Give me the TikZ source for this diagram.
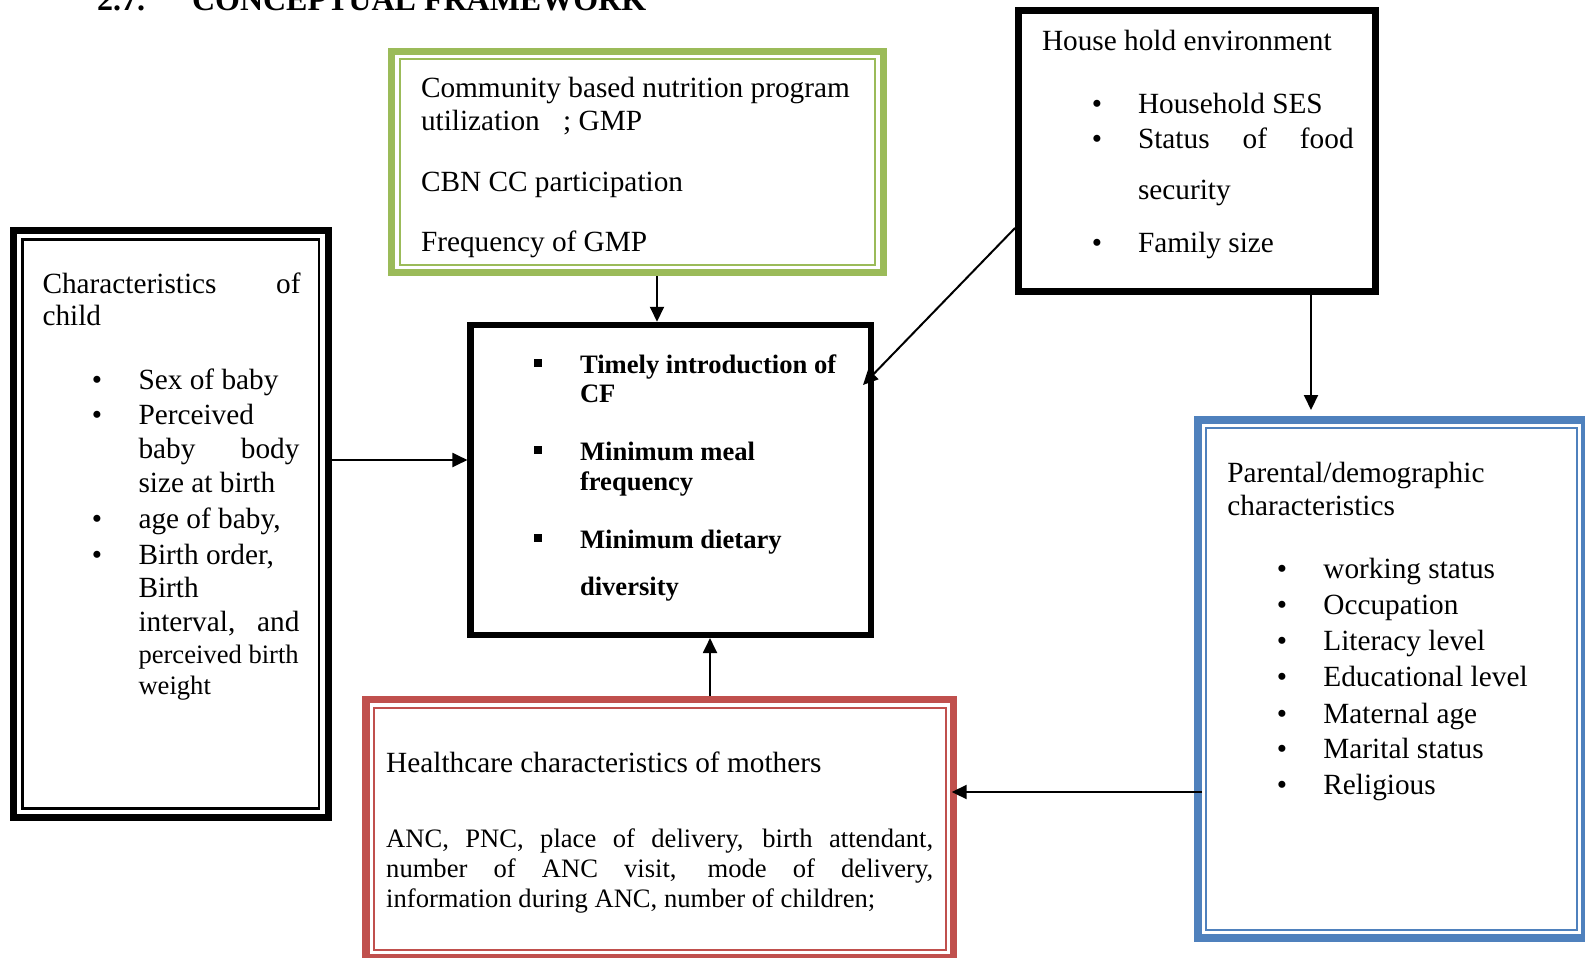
\documentclass[tikz,border=0pt]{standalone}
\usepackage{fontspec}
\setmainfont{Liberation Serif}
\usetikzlibrary{arrows.meta}
\definecolor{ogreen}{HTML}{9BBB59}
\definecolor{oblue}{HTML}{4F81BD}
\definecolor{ored}{HTML}{C0504D}
\begin{document}
\begin{tikzpicture}[x=1pt,y=-1pt,
  box/.style={draw, rectangle, inner sep=0, outer sep=0},
  t/.style={anchor=base west, inner sep=0, outer sep=0, font=\fontsize{29.3}{34}\selectfont},
  ts/.style={anchor=base west, inner sep=0, outer sep=0, font=\fontsize{26.6}{30}\selectfont},
  tb/.style={anchor=base west, inner sep=0, outer sep=0, font=\fontsize{26.6}{30}\selectfont\bfseries},
  ttl/.style={anchor=base west, inner sep=0, outer sep=0, font=\fontsize{32}{36}\selectfont\bfseries},
  bul/.style={anchor=base, inner sep=0, outer sep=0, font=\fontsize{29.3}{34}\selectfont},
  sqb/.style={fill, rectangle, inner sep=0, outer sep=0, minimum size=7.5pt},
  arr/.style={-{Triangle[length=15pt,width=14pt]}, line width=2pt}]
\useasboundingbox (0,0) rectangle (1585,958);
\fill[white] (0,0) rectangle (1585,958);

% title
\node[ttl] (tnum) at (97,11) {2.7.};
\node[ttl] (ttext) at (192,11) {CONCEPTUAL FRAMEWORK};

% boxes
\node[box, line width=7pt, minimum width=314.8pt, minimum height=587pt] (child) at (170.7,524) {};
\node[box, line width=2.5pt, minimum width=296.8pt, minimum height=569pt] (childin) at (child.center) {};

\node[box, draw=ogreen, line width=7pt, minimum width=491.5pt, minimum height=221pt] (cbn) at (637.25,162) {};
\node[box, draw=ogreen, line width=2pt, minimum width=475.5pt, minimum height=205pt] (cbnin) at (cbn.center) {};

\node[box, line width=6.5pt, minimum width=357.4pt, minimum height=281pt] (house) at (1197,151.2) {};

\node[box, line width=6.5pt, minimum width=400.3pt, minimum height=309.8pt] (cf) at (670.85,479.9) {};

\node[box, draw=oblue, line width=8pt, minimum width=387pt, minimum height=517.7pt] (par) at (1391.5,678.85) {};
\node[box, draw=oblue, line width=2pt, minimum width=371pt, minimum height=501.7pt] (parin) at (par.center) {};

\node[box, draw=ored, line width=7.5pt, minimum width=587.5pt, minimum height=258.3pt] (hc) at (659.75,828.85) {};
\node[box, draw=ored, line width=2pt, minimum width=571.5pt, minimum height=242.3pt] (hcin) at (hc.center) {};

% green box text
\node[t] (g1) at (421,97) {Community based nutrition program};
\node[t] (g2) at (421,130.4) {utilization\hspace*{16pt} ; GMP};
\node[t] (g3) at (421,191) {CBN CC participation};
\node[t] (g4) at (421,251.7) {Frequency of GMP};

% child box text
\node[t] (c1) at (42.5,293) {\makebox[258pt][s]{Characteristics of}};
\node[t] (c2) at (42.5,325.5) {child};
\node[bul] (cb1) at (97,389) {•};
\node[t] (c3) at (138.5,389) {Sex of baby};
\node[bul] (cb2) at (97,424.6) {•};
\node[t] (c4) at (138.5,424.6) {Perceived};
\node[t] (c5) at (138.5,458) {\makebox[161pt][s]{baby body}};
\node[t] (c6) at (138.5,492.4) {size at birth};
\node[bul] (cb3) at (97,528.7) {•};
\node[t] (c7) at (138.5,528.7) {age of baby,};
\node[bul] (cb4) at (97,564) {•};
\node[t] (c8) at (138.5,564) {Birth order,};
\node[t] (c9) at (138.5,597.5) {Birth};
\node[t] (c10) at (138.5,631) {\makebox[161pt][s]{interval, and}};
\node[ts] (c11) at (138.5,663) {perceived birth};
\node[ts] (c12) at (138.5,694.5) {weight};

% house box text
\node[t] (h1) at (1042,50.5) {House hold environment};
\node[bul] (hb1) at (1097,113.2) {•};
\node[t] (h2) at (1138,113.2) {Household SES};
\node[bul] (hb2) at (1097,148.6) {•};
\node[t] (h3) at (1138,148.6) {\makebox[215.7pt][s]{Status of food}};
\node[t] (h4) at (1138,199) {security};
\node[bul] (hb3) at (1097,252.8) {•};
\node[t] (h5) at (1138,252.8) {Family size};

% centre box text
\node[sqb] (s1) at (538,363) {};
\node[tb] (f1) at (580,373) {Timely introduction of};
\node[tb] (f2) at (580,402.4) {CF};
\node[sqb] (s2) at (538,450) {};
\node[tb] (f3) at (580,460) {Minimum meal};
\node[tb] (f4) at (580,490) {frequency};
\node[sqb] (s3) at (538,538) {};
\node[tb] (f5) at (580,548) {Minimum dietary};
\node[tb] (f6) at (580,595.5) {diversity};

% parental box text
\node[t] (p1) at (1227.4,482) {Parental/demographic};
\node[t] (p2) at (1227.4,515.6) {characteristics};
\node[bul] (pb1) at (1282,578.3) {•};
\node[t] (p3) at (1323.4,578.3) {working status};
\node[bul] (pb2) at (1282,614.7) {•};
\node[t] (p4) at (1323.4,614.7) {Occupation};
\node[bul] (pb3) at (1282,650) {•};
\node[t] (p5) at (1323.4,650) {Literacy level};
\node[bul] (pb4) at (1282,686.5) {•};
\node[t] (p6) at (1323.4,686.5) {Educational level};
\node[bul] (pb5) at (1282,723) {•};
\node[t] (p7) at (1323.4,723) {Maternal age};
\node[bul] (pb6) at (1282,758) {•};
\node[t] (p8) at (1323.4,758) {Marital status};
\node[bul] (pb7) at (1282,794.6) {•};
\node[t] (p9) at (1323.4,794.6) {Religious};

% healthcare box text
\node[t] (r1) at (386.2,772.4) {Healthcare characteristics of mothers};
\node[ts] (r2) at (386.2,847) {\makebox[547pt][s]{ANC, PNC, place of delivery, birth attendant,}};
\node[ts] (r3) at (386.2,877.5) {\makebox[547pt][s]{number of ANC visit, mode of delivery,}};
\node[ts] (r4) at (386.2,907.9) {information during ANC, number of children;};

% connectors
\coordinate (a1x) at (657,0);
\coordinate (a2y) at (0,460);
\coordinate (a3s) at (0,228);
\coordinate (a3e) at (0,385);
\coordinate (a4x) at (1311,0);
\coordinate (a5x) at (710,0);
\coordinate (a6y) at (0,792);
\draw[arr] ([yshift=-3.5pt]cbn.south -| a1x) -- ([yshift=3.25pt]cf.north -| a1x);
\draw[arr] ([xshift=3.5pt]child.east |- a2y) -- ([xshift=-3.25pt]cf.west |- a2y);
\draw[arr] ([xshift=-3.25pt]house.west |- a3s) -- ([xshift=-8pt]cf.east |- a3e);
\draw[arr] ([yshift=-3.25pt]house.south -| a4x) -- ([yshift=10pt]par.north -| a4x);
\draw[arr] ([yshift=3.75pt]hc.north -| a5x) -- ([yshift=-3.25pt]cf.south -| a5x);
\draw[arr] ([xshift=4pt]par.west |- a6y) -- ([xshift=-1.8pt]hc.east |- a6y);
\end{tikzpicture}
\end{document}
